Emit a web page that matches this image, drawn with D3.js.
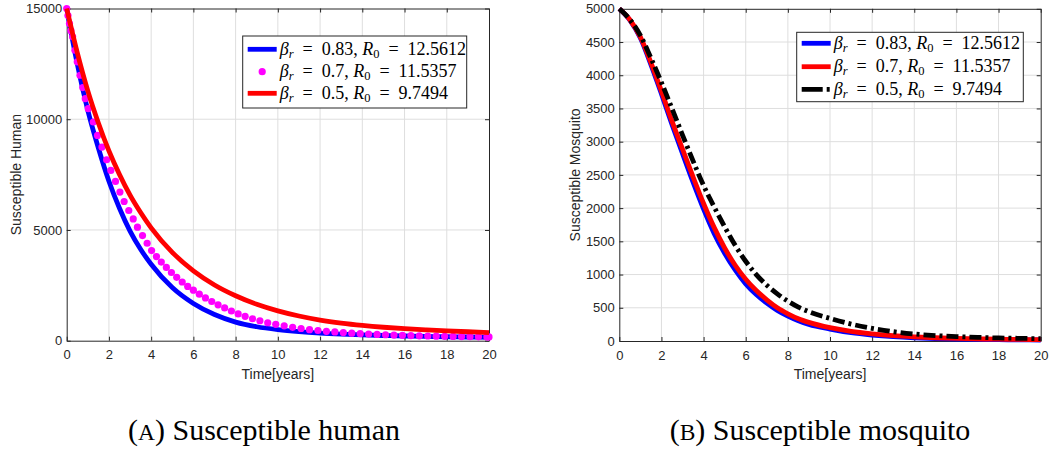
<!DOCTYPE html>
<html>
<head>
<meta charset="utf-8">
<script src="https://cdn.jsdelivr.net/npm/d3@7"></script>
<style>
  body { margin: 0; background: #ffffff; }
  svg { display: block; }
</style>
</head>
<body>
<svg id="fig" width="1049" height="452"></svg>
<script>
// ---- Susceptible human (panel A) ----
const humanYears = [0, 0.5, 1, 1.5, 2, 2.5, 3, 3.5, 4, 5, 6, 7, 8, 9, 10, 11, 12, 13, 14, 15, 16, 17, 18, 19, 20];
const humanBeta083 = [15000, 12500, 10400, 8700, 7200, 5980, 4950, 4130, 3450, 2400, 1680, 1180, 840, 630, 500, 410, 345, 298, 262, 235, 212, 194, 179, 166, 155];
const humanBeta05 = [15000, 13010, 11280, 9830, 8570, 7505, 6573, 5787, 5094, 3987, 3152, 2517, 2030, 1645, 1347, 1114, 930, 793, 689, 608, 545, 493, 446, 404, 365];
// solver output for beta_r = 0.7, plotted as markers
const humanDotYears = [0, 0.06, 0.13, 0.2, 0.28, 0.39, 0.5, 0.63, 0.76, 0.88, 1.02, 1.26, 1.46, 1.67, 1.89, 2.09, 2.31, 2.52, 2.72, 2.94,
  3.15, 3.35, 3.59, 3.81, 4.02, 4.25, 4.48, 4.72, 4.96, 5.21, 5.47, 5.73, 6.0, 6.28, 6.57, 6.87, 7.17, 7.48, 7.8, 8.12,
  8.45, 8.8, 9.15, 9.52, 9.9, 10.3, 10.7, 11.1, 11.5, 11.9, 12.3, 12.7, 13.1, 13.5, 13.9, 14.3, 14.7, 15.1, 15.5, 15.9,
  16.3, 16.7, 17.1, 17.5, 17.9, 18.3, 18.7, 19.1, 19.5, 19.9, 20];
const humanBeta07 = [15000, 14680, 14320, 14000, 13720, 13115, 12590, 11985, 11430, 10930, 10477, 9874, 9271, 8744, 8170, 7690, 7190, 6710, 6286, 5880,
  5500, 5125, 4748, 4400, 4070, 3800, 3550, 3310, 3080, 2860, 2650, 2450, 2280, 2100, 1930, 1770, 1620, 1480, 1340, 1210,
  1100, 990, 900, 810, 740, 670, 605, 550, 500, 460, 425, 395, 365, 340, 318, 300, 283, 268, 255, 243,
  232, 222, 213, 205, 198, 192, 186, 181, 176, 172, 171];

// ---- Susceptible mosquito (panel B) ----
const mosqYears = [0, 0.5, 1, 1.5, 2, 2.5, 3, 3.5, 4, 4.5, 5, 5.5, 6, 6.5, 7, 7.5, 8, 8.5, 9, 10, 11, 12, 13, 14, 15, 16, 17, 18, 19, 20];
const mosqBeta083 = [5000, 4830, 4560, 4160, 3720, 3260, 2820, 2390, 1985, 1620, 1320, 1070, 860, 700, 570, 460, 375, 305, 250, 180, 125, 90, 65, 48, 37, 29, 24, 20, 17, 15];
const mosqBeta07 = [5000, 4835, 4575, 4190, 3760, 3310, 2890, 2470, 2070, 1710, 1400, 1140, 930, 760, 620, 500, 410, 335, 280, 200, 145, 108, 80, 62, 49, 39, 32, 27, 23, 20];
const mosqBeta05 = [5000, 4840, 4600, 4260, 3890, 3500, 3100, 2710, 2340, 2020, 1720, 1440, 1200, 1000, 840, 710, 600, 510, 440, 340, 255, 190, 140, 105, 82, 66, 55, 46, 40, 35];

// ---- ticks and legend text ----
const xTicks = [0, 2, 4, 6, 8, 10, 12, 14, 16, 18, 20];
const humanTicks = [0, 5000, 10000, 15000];
const mosqTicks = [0, 500, 1000, 1500, 2000, 2500, 3000, 3500, 4000, 4500, 5000];
const betaLabels = ["0.83", "0.7", "0.5"];
const r0Labels = ["12.5612", "11.5357", "9.7494"];

const svg = d3.select("#fig");
svg.append("rect").attr("width", 1049).attr("height", 452).attr("fill", "#ffffff");

const axisColor = "#262626";
const gridColor = "#dedede";
const sansFont = "'Liberation Sans', Arial, Helvetica, sans-serif";
const serifFont = "'Liberation Serif', 'Times New Roman', serif";

function drawFrame(g, x, y, yTicks, yTitle, titleOffset) {
  const [x0, x1] = x.range();
  const [yb, yt] = y.range();

  // grid
  g.append("g").selectAll("line").data(xTicks.slice(1, -1)).join("line")
    .attr("x1", d => x(d)).attr("x2", d => x(d)).attr("y1", yb).attr("y2", yt)
    .attr("stroke", gridColor).attr("stroke-width", 1);
  g.append("g").selectAll("line").data(yTicks.slice(1, -1)).join("line")
    .attr("x1", x0).attr("x2", x1).attr("y1", d => y(d)).attr("y2", d => y(d))
    .attr("stroke", gridColor).attr("stroke-width", 1);

  // axes with inward ticks on all four sides
  const bottom = d3.axisBottom(x).tickValues(xTicks).tickSizeInner(-4).tickSizeOuter(0).tickPadding(9.5);
  const top = d3.axisTop(x).tickValues(xTicks).tickSizeInner(-4).tickSizeOuter(0).tickFormat("");
  const left = d3.axisLeft(y).tickValues(yTicks).tickSizeInner(-4).tickSizeOuter(0).tickPadding(4.5).tickFormat(d3.format("d"));
  const right = d3.axisRight(y).tickValues(yTicks).tickSizeInner(-4).tickSizeOuter(0).tickFormat("");

  const axes = [
    g.append("g").attr("transform", `translate(0,${yb})`).call(bottom),
    g.append("g").attr("transform", `translate(0,${yt})`).call(top),
    g.append("g").attr("transform", `translate(${x0},0)`).call(left),
    g.append("g").attr("transform", `translate(${x1},0)`).call(right)
  ];
  axes.forEach(a => {
    a.select(".domain").attr("stroke", axisColor).attr("stroke-width", 1);
    a.selectAll(".tick line").attr("stroke", axisColor).attr("stroke-width", 1);
    a.selectAll(".tick text").attr("fill", axisColor).attr("font-family", sansFont).attr("font-size", 13);
  });

  g.append("text")
    .attr("x", (x0 + x1) / 2).attr("y", yb + 38)
    .attr("text-anchor", "middle").attr("font-family", sansFont).attr("font-size", 14)
    .attr("fill", axisColor).text("Time[years]");
  g.append("text")
    .attr("transform", `translate(${x0 - titleOffset},${(yb + yt) / 2}) rotate(-90)`)
    .attr("text-anchor", "middle").attr("font-family", sansFont).attr("font-size", 14)
    .attr("fill", axisColor).text(yTitle);
}

function drawLegend(g, bx, by, bw, bh, rowY, entries) {
  g.append("rect").attr("x", bx).attr("y", by).attr("width", bw).attr("height", bh)
    .attr("fill", "#ffffff").attr("stroke", axisColor).attr("stroke-width", 1);
  entries.forEach((e, i) => {
    const cy = rowY[i];
    const sx0 = bx + 5, sx1 = bx + 34;
    if (e.kind === "dot") {
      g.append("circle").attr("cx", (sx0 + sx1) / 2).attr("cy", cy).attr("r", 3.6).attr("fill", e.color);
    } else {
      g.append("line").attr("x1", sx0).attr("x2", sx1).attr("y1", cy).attr("y2", cy)
        .attr("stroke", e.color).attr("stroke-width", 4.8)
        .attr("stroke-dasharray", e.dash || null);
    }
    const t = g.append("text").attr("x", bx + 37).attr("y", cy + 5.5)
      .attr("font-family", serifFont).attr("font-size", 18).attr("fill", "#000");
    t.append("tspan").attr("font-style", "italic").text("β");
    t.append("tspan").attr("font-style", "italic").attr("font-size", 12.5).attr("dy", 3).text("r");
    t.append("tspan").attr("dy", -3).text("\u2002=\u2002" + betaLabels[i] + ", ");
    t.append("tspan").attr("font-style", "italic").text("R");
    t.append("tspan").attr("font-size", 12.5).attr("dy", 3).text("0");
    t.append("tspan").attr("dy", -3).text("\u2002=\u2002" + r0Labels[i]);
  });
}

// ================= Panel A =================
const gA = svg.append("g");
const xA = d3.scaleLinear().domain([0, 20]).range([66.7, 489]);
const yA = d3.scaleLinear().domain([0, 15000]).range([340.7, 8.5]);
drawFrame(gA, xA, yA, humanTicks, "Susceptible Human", 46);

const lineA = d3.line().x(d => xA(d[0])).y(d => yA(d[1])).curve(d3.curveMonotoneX);
gA.append("path").datum(d3.zip(humanYears, humanBeta083)).attr("d", lineA)
  .attr("fill", "none").attr("stroke", "#0000ff").attr("stroke-width", 4.8);
gA.append("g").selectAll("circle").data(d3.zip(humanDotYears, humanBeta07)).join("circle")
  .attr("cx", d => xA(d[0])).attr("cy", d => yA(d[1])).attr("r", 3.6).attr("fill", "#ff00ff");
gA.append("path").datum(d3.zip(humanYears, humanBeta05)).attr("d", lineA)
  .attr("fill", "none").attr("stroke", "#ff0000").attr("stroke-width", 4.8);

drawLegend(gA, 242.7, 36, 224, 72, [49.3, 71.7, 93.3], [
  { kind: "line", color: "#0000ff" },
  { kind: "dot", color: "#ff00ff" },
  { kind: "line", color: "#ff0000" }
]);

// ================= Panel B =================
const gB = svg.append("g");
const xB = d3.scaleLinear().domain([0, 20]).range([619.3, 1040.7]);
const yB = d3.scaleLinear().domain([0, 5000]).range([341, 8.8]);
drawFrame(gB, xB, yB, mosqTicks, "Susceptible Mosquito", 39.5);

const lineB = d3.line().x(d => xB(d[0])).y(d => yB(d[1])).curve(d3.curveMonotoneX);
gB.append("path").datum(d3.zip(mosqYears, mosqBeta083)).attr("d", lineB)
  .attr("fill", "none").attr("stroke", "#0000ff").attr("stroke-width", 4.8);
gB.append("path").datum(d3.zip(mosqYears, mosqBeta07)).attr("d", lineB)
  .attr("fill", "none").attr("stroke", "#ff0000").attr("stroke-width", 4.8);
gB.append("path").datum(d3.zip(mosqYears, mosqBeta05)).attr("d", lineB)
  .attr("fill", "none").attr("stroke", "#000000").attr("stroke-width", 4.8)
  .attr("stroke-dasharray", "12,4,3,4");

drawLegend(gB, 796.7, 32.3, 226.6, 69.4, [43.3, 66.7, 89.3], [
  { kind: "line", color: "#0000ff" },
  { kind: "line", color: "#ff0000" },
  { kind: "line", color: "#000000", dash: "21,4,3,4" }
]);

// ================= Captions =================
function caption(cx, letter, rest) {
  const t = svg.append("text").attr("x", cx).attr("y", 440).attr("text-anchor", "middle")
    .attr("font-family", serifFont).attr("font-size", 30).attr("fill", "#000");
  t.append("tspan").text("(");
  t.append("tspan").attr("font-size", 23.5).text(letter);
  t.append("tspan").text(") " + rest);
}
caption(264, "A", "Susceptible human");
caption(820, "B", "Susceptible mosquito");
</script>
</body>
</html>
